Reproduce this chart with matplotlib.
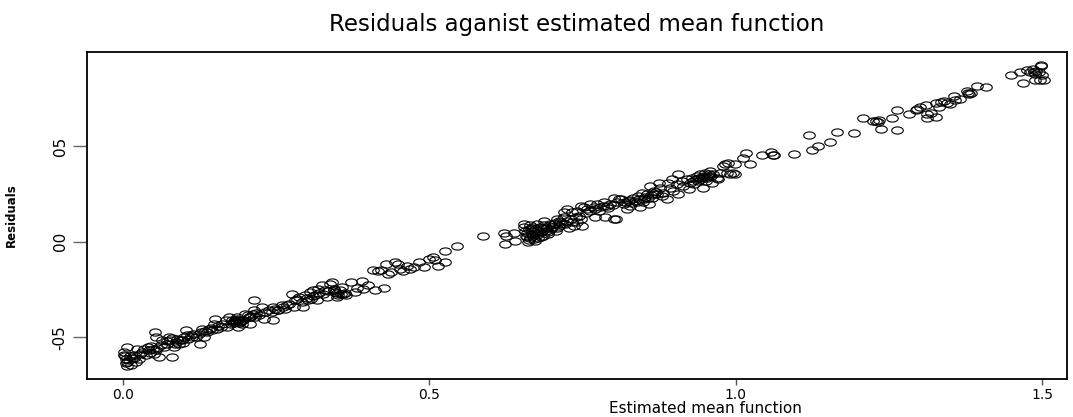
import numpy as np
import matplotlib
matplotlib.use("Agg")
import matplotlib.pyplot as plt
from matplotlib.path import Path

# ---- data ----
fitted = [
    0.0065, 0.003, 0.005, 0.008, 0.008, 0.0135, 0.019, 0.027, 0.024, 0.032,
    0.041, 0.038, 0.043, 0.049, 0.051, 0.054, 0.060, 0.053, 0.054, 0.065,
    0.068, 0.062, 0.073, 0.076, 0.078, 0.081, 0.084, 0.087, 0.089, 0.092,
    0.097, 0.100, 0.103, 0.106, 0.111, 0.114, 0.119, 0.124, 0.127, 0.130,
    0.133, 0.138, 0.141, 0.146, 0.149, 0.151, 0.154, 0.160, 0.162, 0.168,
    0.170, 0.173, 0.176, 0.179, 0.181, 0.184, 0.187, 0.189, 0.192, 0.195,
    0.200, 0.206, 0.208, 0.214, 0.214, 0.216, 0.222, 0.227, 0.230, 0.233,
    0.238, 0.244, 0.246, 0.249, 0.254,
    0.246, 0.254, 0.260, 0.265, 0.271, 0.276, 0.279, 0.281, 0.287, 0.292,
    0.295, 0.298, 0.303, 0.306, 0.308, 0.311, 0.314, 0.317, 0.319, 0.325,
    0.327, 0.330, 0.333, 0.338, 0.341, 0.344, 0.346, 0.349, 0.352, 0.354,
    0.357, 0.360, 0.365, 0.373, 0.379, 0.383, 0.390, 0.392, 0.400, 0.411,
    0.427, 0.409, 0.417, 0.422, 0.430, 0.433, 0.438, 0.444, 0.449, 0.452,
    0.457, 0.463, 0.468, 0.476, 0.484, 0.492, 0.500, 0.506, 0.509, 0.514,
    0.525, 0.526,
    0.545, 0.587, 0.622, 0.625, 0.638, 0.623, 0.640, 0.655, 0.657, 0.660,
    0.661, 0.666, 0.668, 0.671, 0.674, 0.676, 0.679, 0.682, 0.685, 0.687,
    0.690, 0.693, 0.695, 0.698, 0.703, 0.706, 0.709, 0.712, 0.714, 0.720,
    0.722, 0.725, 0.728, 0.731, 0.733, 0.736, 0.739, 0.741, 0.747, 0.749,
    0.720, 0.725, 0.733, 0.741, 0.747, 0.752, 0.758, 0.763, 0.768, 0.771,
    0.774, 0.779, 0.785, 0.787, 0.790, 0.795, 0.801, 0.801, 0.806, 0.809,
    0.804, 0.812, 0.817, 0.823, 0.825, 0.828, 0.833, 0.839, 0.841, 0.844,
    0.847, 0.850, 0.855, 0.858, 0.860, 0.863, 0.866, 0.871, 0.874, 0.877,
    0.879, 0.882, 0.887, 0.890, 0.893, 0.896, 0.898, 0.904, 0.906, 0.906,
    0.912, 0.914, 0.920, 0.923, 0.925, 0.928, 0.931, 0.936, 0.939, 0.942,
    0.944, 0.947, 0.950, 0.952, 0.955, 0.958, 0.961, 0.963, 0.969, 0.971,
    0.974, 0.979, 0.982, 0.985, 0.987, 0.990, 0.996, 0.998, 0.998, 1.012,
    1.017, 1.023, 1.042, 1.058, 1.061,
    1.063, 1.095, 1.119, 1.124, 1.134, 1.153, 1.165, 1.192, 1.207, 1.223,
    1.231, 1.234, 1.236, 1.255, 1.263, 1.263, 1.282, 1.293,
    1.296, 1.301, 1.310, 1.312, 1.318, 1.312, 1.326, 1.326, 1.334, 1.331,
    1.339, 1.345, 1.350, 1.356, 1.358, 1.366, 1.377, 1.380, 1.383, 1.393,
    1.408, 1.448, 1.464, 1.468, 1.475, 1.480, 1.485, 1.488, 1.494, 1.498,
    1.499, 1.488, 1.496, 1.503,
    # extra points in the dense clumps
    0.004, 0.010, 0.012, 0.006, 0.015, 0.002, 0.018, 0.022,
    0.035, 0.045, 0.028, 0.056, 0.047,
    0.072, 0.080, 0.093, 0.105, 0.115, 0.098, 0.085,
    0.135, 0.145, 0.156, 0.128,
    0.182, 0.185, 0.188, 0.190, 0.193, 0.186, 0.196, 0.180,
    0.205, 0.210, 0.212, 0.218, 0.208,
    0.262, 0.268, 0.285, 0.300, 0.310, 0.320, 0.335, 0.345,
    0.350, 0.356, 0.362,
    0.658, 0.660, 0.662, 0.663, 0.665, 0.667, 0.669, 0.670, 0.672, 0.673,
    0.675, 0.677, 0.678, 0.680, 0.683, 0.686, 0.688, 0.691, 0.694, 0.697,
    0.700, 0.705, 0.708, 0.711, 0.716, 0.655, 0.664,
    0.820, 0.826, 0.830, 0.836, 0.842, 0.848, 0.852, 0.856, 0.861, 0.866,
    0.870,
    0.930, 0.935, 0.940, 0.945, 0.948, 0.953, 0.957, 0.960,
    0.744, 0.755, 0.762, 0.770, 0.777, 0.783, 0.792, 0.800,
    1.379, 1.497, 1.486, 1.490, 1.229,
]

residuals = [
    -0.550, -0.594, -0.611, -0.629, -0.651, -0.646, -0.606, -0.611, -0.559, -0.576,
    -0.550, -0.594, -0.568, -0.559, -0.585, -0.568, -0.602, -0.472, -0.498, -0.516,
    -0.550, -0.542, -0.533, -0.498, -0.516, -0.602, -0.550, -0.524, -0.507, -0.533,
    -0.516, -0.498, -0.464, -0.507, -0.490, -0.498, -0.498, -0.481, -0.533, -0.455,
    -0.498, -0.472, -0.455, -0.464, -0.429, -0.403, -0.455, -0.446, -0.429, -0.411,
    -0.446, -0.394, -0.429, -0.411, -0.420, -0.411, -0.394, -0.446, -0.420, -0.429,
    -0.377, -0.394, -0.429, -0.304, -0.359, -0.394, -0.385, -0.342, -0.403, -0.368,
    -0.359, -0.368, -0.411, -0.351, -0.359,
    -0.342, -0.359, -0.333, -0.351, -0.325, -0.273, -0.342, -0.307, -0.290, -0.316,
    -0.342, -0.281, -0.307, -0.264, -0.299, -0.255, -0.281, -0.307, -0.246, -0.229,
    -0.273, -0.255, -0.290, -0.220, -0.212, -0.246, -0.264, -0.290, -0.281, -0.255,
    -0.238, -0.273, -0.281, -0.212, -0.264, -0.241, -0.203, -0.246, -0.229, -0.252,
    -0.241, -0.147, -0.155, -0.147, -0.116, -0.168, -0.160, -0.108, -0.116, -0.142,
    -0.151, -0.125, -0.142, -0.134, -0.108, -0.134, -0.090, -0.078, -0.095, -0.125,
    -0.108, -0.047,
    -0.021, 0.028, 0.043, 0.031, 0.043, -0.012, 0.002, 0.095, 0.057, 0.022,
    -0.004, 0.074, 0.040, 0.014, 0.066, 0.092, 0.048, 0.022, 0.074, 0.109,
    0.057, 0.040, 0.083, 0.066, 0.092, 0.057, 0.118, 0.083, 0.101, 0.127,
    0.092, 0.109, 0.074, 0.118, 0.101, 0.083, 0.127, 0.101, 0.118, 0.083,
    0.153, 0.170, 0.153, 0.161, 0.188, 0.179, 0.170, 0.196, 0.179, 0.127,
    0.196, 0.179, 0.205, 0.127, 0.188, 0.196, 0.231, 0.118, 0.205, 0.222,
    0.118, 0.222, 0.196, 0.170, 0.214, 0.188, 0.231, 0.205, 0.240, 0.179,
    0.257, 0.222, 0.248, 0.196, 0.292, 0.231, 0.266, 0.248, 0.309, 0.283,
    0.240, 0.257, 0.222, 0.309, 0.283, 0.326, 0.266, 0.300, 0.352, 0.248,
    0.318, 0.292, 0.326, 0.274, 0.309, 0.335, 0.300, 0.344, 0.318, 0.352,
    0.326, 0.283, 0.361, 0.318, 0.344, 0.370, 0.309, 0.352, 0.335, 0.326,
    0.361, 0.396, 0.405, 0.361, 0.413, 0.352, 0.361, 0.405, 0.356, 0.436,
    0.462, 0.405, 0.452, 0.470, 0.452,
    0.451, 0.460, 0.559, 0.481, 0.500, 0.523, 0.573, 0.566, 0.646, 0.632,
    0.627, 0.639, 0.590, 0.646, 0.689, 0.583, 0.668, 0.691,
    0.696, 0.703, 0.717, 0.668, 0.674, 0.648, 0.651, 0.726, 0.731, 0.703,
    0.734, 0.726, 0.720, 0.760, 0.743, 0.748, 0.786, 0.773, 0.778, 0.813,
    0.807, 0.870, 0.887, 0.830, 0.899, 0.887, 0.905, 0.877, 0.887, 0.922,
    0.873, 0.847, 0.847, 0.847,
    -0.600, -0.620, -0.600, -0.635, -0.610, -0.575, -0.590, -0.630,
    -0.560, -0.580, -0.585, -0.555, -0.545,
    -0.520, -0.505, -0.515, -0.490, -0.485, -0.530, -0.535,
    -0.465, -0.450, -0.440, -0.470,
    -0.415, -0.420, -0.410, -0.425, -0.415, -0.405, -0.410, -0.425,
    -0.385, -0.390, -0.380, -0.375, -0.395,
    -0.340, -0.330, -0.300, -0.295, -0.285, -0.270, -0.260, -0.250,
    -0.270, -0.275, -0.268,
    0.030, 0.045, 0.010, 0.065, 0.020, 0.055, 0.030, 0.075, 0.045, 0.005,
    0.035, 0.060, 0.020, 0.075, 0.050, 0.030, 0.085, 0.070, 0.050, 0.090,
    0.075, 0.100, 0.070, 0.110, 0.090, 0.075, 0.085,
    0.205, 0.220, 0.200, 0.215, 0.225, 0.210, 0.235, 0.230, 0.245, 0.250,
    0.260,
    0.320, 0.330, 0.335, 0.340, 0.345, 0.335, 0.355, 0.345,
    0.135, 0.150, 0.160, 0.170, 0.160, 0.185, 0.175, 0.190,
    0.780, 0.918, 0.885, 0.892, 0.633,
]

x_ticks = [0.0, 0.5, 1.0, 1.5]
x_tick_labels = ["0.0", "0.5", "1.0", "1.5"]
y_ticks = [-0.5, 0.0, 0.5]
y_tick_labels = ["-05", "00", "05"]

title_text = "Residuals aganist estimated mean function"
x_label = "Estimated mean function"
y_label = "Residuals"

# ---- figure ----
plt.rcParams["font.family"] = ["DejaVu Sans"]
W, H = 1073, 417
fig = plt.figure(figsize=(W / 100, H / 100), dpi=100)
ax = fig.add_axes([87 / W, (H - 379) / H, (1067 - 87) / W, (379 - 52) / H])

# open ellipse marker (the original picture is stretched horizontally)
t = np.linspace(0, 2 * np.pi, 60)
ellipse = Path(np.column_stack([np.cos(t), 0.62 * np.sin(t)]), closed=True)

ax.plot(fitted, residuals, linestyle="none", marker=ellipse, markersize=8.3,
        markerfacecolor="none", markeredgecolor="black", markeredgewidth=0.8)

ax.set_xlim(-0.058, 1.54)
ax.set_ylim(-0.718, 0.992)

ax.set_xticks(x_ticks)
ax.set_xticklabels(x_tick_labels, fontsize=10)
ax.set_yticks(y_ticks)
ax.set_yticklabels(y_tick_labels, fontsize=11, rotation=90, va="center")

ax.tick_params(axis="x", length=4.5, width=1.0, color="#555555", pad=2)
ax.tick_params(axis="y", length=10, width=1.0, color="#666666", pad=4)

for sp in ax.spines.values():
    sp.set_linewidth(1.3)
    sp.set_color("black")

ax.set_title(title_text, fontsize=16.5, pad=15)
ax.set_xlabel(x_label, fontsize=11)
ax.xaxis.set_label_coords((705 - 87) / 980, -0.068)
ax.set_ylabel(y_label, fontsize=8.5, fontweight="bold")
ax.yaxis.set_label_coords((18 - 87) / 980, 0.5)

fig.savefig("out.png", dpi=100)
